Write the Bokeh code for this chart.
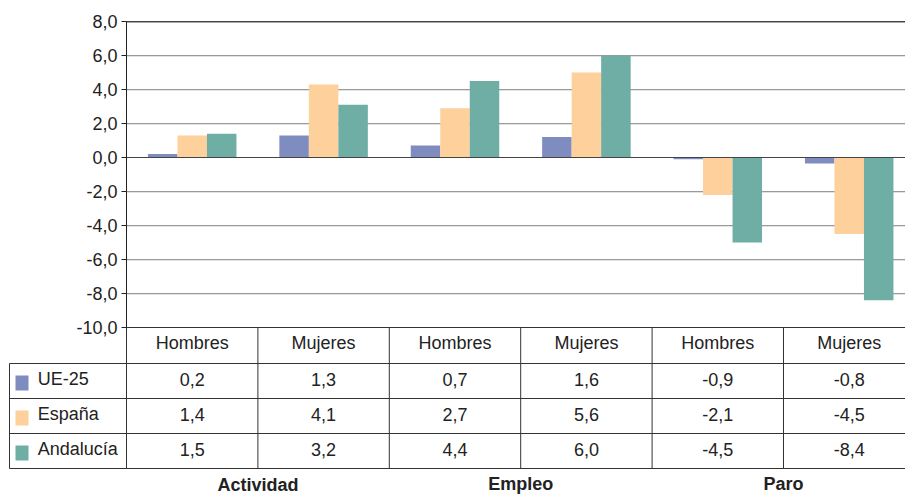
from bokeh.plotting import figure
from bokeh.models import LinearAxis, FixedTicker, CustomJSTickFormatter, Range1d, ColumnDataSource
from bokeh.core.properties import value
from bokeh.embed import file_html
from bokeh.resources import INLINE

# ---------------- data ----------------
groups = ["Actividad", "Empleo", "Paro"]
sexes = ["Hombres", "Mujeres"]
series = ["UE-25", "España", "Andalucía"]
colors = ["#7F8CC0", "#FDD09C", "#6FAEA4"]

# bar heights as drawn in the chart
ue25_bars = [0.2, 1.3, 0.7, 1.2, -0.1, -0.35]
espana_bars = [1.3, 4.3, 2.9, 5.0, -2.2, -4.5]
andalucia_bars = [1.4, 3.1, 4.5, 6.0, -5.0, -8.4]

# values printed in the data table
ue25_table = [0.2, 1.3, 0.7, 1.6, -0.9, -0.8]
espana_table = [1.4, 4.1, 2.7, 5.6, -2.1, -4.5]
andalucia_table = [1.5, 3.2, 4.4, 6.0, -4.5, -8.4]

y_ticks = [-10, -8, -6, -4, -2, 0, 2, 4, 6, 8]

bars = [ue25_bars, espana_bars, andalucia_bars]
tables = [ue25_table, espana_table, andalucia_table]
categories = [(g, s) for g in groups for s in sexes]
n_cat = len(categories)

# ---------------- layout (pixels) ----------------
W, H = 905, 496
CAT_PX = 131.4          # width of one category column
ORIGIN_X = 126          # canvas x where first category starts
PX_UNIT = 17.0          # pixels per y unit
Y_TOP_PX = 21           # canvas y of the top tick
TEXT_SHIFT = -7         # correction for rendered text baseline
y_top = max(y_ticks)
y_bot = min(y_ticks)

x_start = -ORIGIN_X / CAT_PX
x_end = (W - ORIGIN_X) / CAT_PX
y_end = y_top + Y_TOP_PX / PX_UNIT
y_start = y_end - H / PX_UNIT


def cx(px):
    return (px - ORIGIN_X) / CAT_PX


def cy(py):
    return y_end - py / PX_UNIT


def ty(py):
    return cy(py + TEXT_SHIFT)


FONT = value("Liberation Sans")
TXT = "#222222"

p = figure(width=W, height=H, x_range=Range1d(x_start, x_end), y_range=Range1d(y_start, y_end),
           output_backend="svg", toolbar_location=None, x_axis_location=None, y_axis_location=None,
           min_border=0, outline_line_color=None, background_fill_color="white",
           border_fill_color="white")
p.grid.visible = False

# ---------------- grid lines ----------------
grid_vals = [t for t in y_ticks if t not in (y_top, 0, y_bot)]
shadow = 1.0 / PX_UNIT
p.segment(x0=0, x1=n_cat, y0=[t - shadow for t in grid_vals], y1=[t - shadow for t in grid_vals],
          line_color="#e2e2e2", line_width=1)
p.segment(x0=0, x1=n_cat, y0=grid_vals, y1=grid_vals, line_color="#9a9a9a", line_width=1)
p.segment(x0=0, x1=n_cat, y0=[y_top - shadow], y1=[y_top - shadow], line_color="#a8a8a8", line_width=1)
p.segment(x0=0, x1=n_cat, y0=[y_top], y1=[y_top], line_color="#444444", line_width=1)

# ---------------- bars ----------------
BAR_W = 29.5 / CAT_PX
for k, (name, vals, col) in enumerate(zip(series, bars, colors)):
    offs = (k - 1) * BAR_W
    src = ColumnDataSource(dict(x=[i + 0.5 + offs for i in range(n_cat)], top=vals))
    p.vbar(x="x", top="top", bottom=0, width=BAR_W, source=src, fill_color=col, line_color=None)

# zero line
p.segment(x0=0, x1=n_cat, y0=[0], y1=[0], line_color="#444444", line_width=1)

# ---------------- y axis ----------------
axis = LinearAxis(fixed_location=0, bounds=(y_bot, y_top), ticker=FixedTicker(ticks=y_ticks),
                  formatter=CustomJSTickFormatter(code="return tick.toFixed(1).replace('.', ',')"),
                  major_tick_out=5, major_tick_in=0, minor_tick_out=0, minor_tick_in=0,
                  axis_line_color="#222222", major_tick_line_color="#222222",
                  major_label_text_font="Liberation Sans", major_label_text_font_size="18px",
                  major_label_text_color=TXT, major_label_standoff=4)
p.add_layout(axis, "left")

# ---------------- table ----------------
row_px = [327, 363, 398, 433, 468]       # canvas y of table row edges
LINE = "#333333"
left_x = cx(9)
# horizontal lines
p.segment(x0=0, x1=n_cat, y0=[cy(row_px[0])], y1=[cy(row_px[0])], line_color=LINE, line_width=1)
hy = [cy(v) for v in row_px[1:]]
p.segment(x0=left_x, x1=n_cat, y0=hy, y1=hy, line_color=LINE, line_width=1)
# vertical lines
p.segment(x0=[left_x], x1=[left_x], y0=[cy(row_px[1])], y1=[cy(row_px[-1])], line_color=LINE, line_width=1)
vx = list(range(n_cat + 1))
p.segment(x0=vx, x1=vx, y0=cy(row_px[0]), y1=cy(row_px[-1]), line_color=LINE, line_width=1)

# header labels
p.text(x=[i + 0.5 for i in range(n_cat)], y=ty(row_px[0] + 22.5), text=[c[1] for c in categories],
       text_font=FONT, text_font_size="18px", text_color=TXT, text_align="center",
       text_baseline="alphabetic")

# values + legend
for k, (name, vals, col) in enumerate(zip(series, tables, colors)):
    top = row_px[k + 1]
    base = ty(top + 22.7)
    p.text(x=[i + 0.5 for i in range(n_cat)], y=base,
           text=[f"{v:.1f}".replace(".", ",") for v in vals],
           text_font=FONT, text_font_size="18px", text_color=TXT, text_align="center",
           text_baseline="alphabetic")
    p.text(x=[cx(37.3)], y=base, text=[name], text_font=FONT, text_font_size="18px",
           text_color=TXT, text_align="left", text_baseline="alphabetic")
    p.rect(x=[cx(21.5)], y=[cy(top + 19.5)], width=13, height=15, width_units="screen",
           height_units="screen", fill_color=col, line_color=None)

# group labels
group_base_px = [491, 490, 490]
p.text(x=[2 * j + 1 for j in range(len(groups))], y=[ty(b) for b in group_base_px], text=groups,
       text_font=FONT, text_font_size="18px", text_font_style="bold", text_color=TXT,
       text_align="center", text_baseline="alphabetic")

open("out.html", "w").write(file_html(p, INLINE))
